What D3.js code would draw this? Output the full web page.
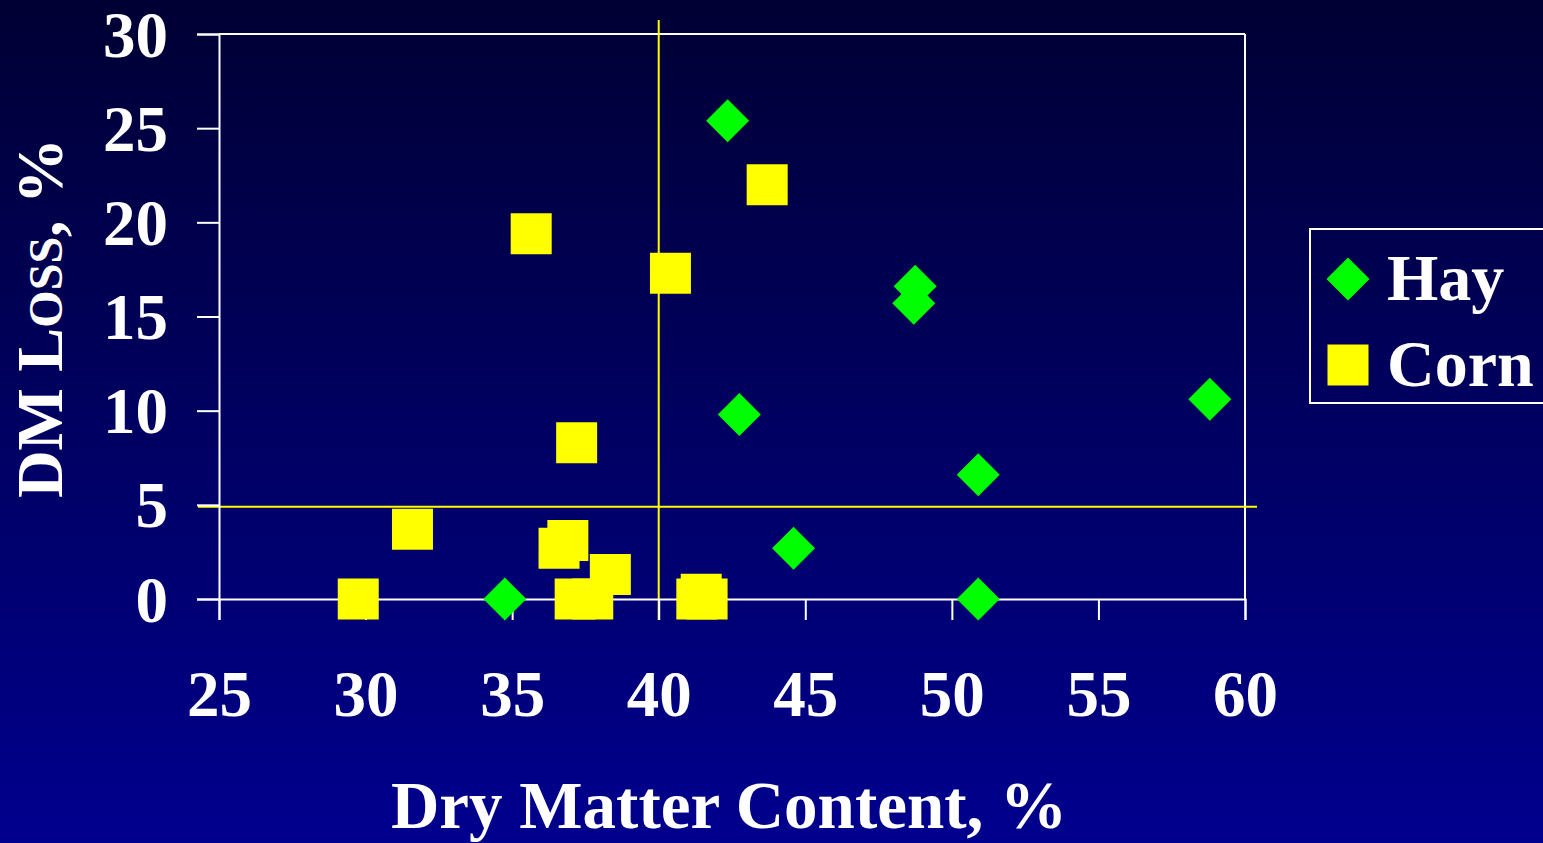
<!DOCTYPE html>
<html>
<head>
<meta charset="utf-8">
<script src="https://cdn.jsdelivr.net/npm/d3@7/dist/d3.min.js"></script>
<style>
  html, body { margin: 0; padding: 0; background: #000050; overflow: hidden; }
  svg { display: block; }
  text { font-family: "Liberation Serif", "Times New Roman", serif; font-weight: bold; fill: #ffffff; }
</style>
</head>
<body>
<svg id="chart" width="1543" height="843"></svg>
<script>
// Dry matter content (%) vs. DM loss (%) for hay and corn samples
const hayDM   = [34.75, 42.35, 42.75, 44.6, 48.75, 48.7, 50.9, 50.9, 58.8];
const hayLoss = [0,     25.4,  9.8,   2.7,  16.6,  15.7, 6.6,  0,    10.6];

const cornDM   = [29.75, 31.6, 35.65, 36.6, 36.9, 37.2, 38.35, 37.15, 37.75, 40.4, 41.3, 41.45, 41.65, 43.7];
const cornLoss = [0,     3.7,  19.4,  2.7,  3.1,  8.3,  1.3,   0,     0,     17.3, 0,    0.25,  0,     22.0];

const xTicks = [25, 30, 35, 40, 45, 50, 55, 60];
const yTicks = [0, 5, 10, 15, 20, 25, 30];

// Reference lines splitting the plot into quadrants
const dmThreshold = 40;
const lossThreshold = 4.9;

const seriesNames = ["Hay", "Corn"];

const W = 1543, H = 843;
const svg = d3.select("#chart");

// Background: dark navy fading to blue
const defs = svg.append("defs");
const grad = defs.append("linearGradient")
  .attr("id", "bg").attr("x1", 0).attr("y1", 0).attr("x2", 0).attr("y2", 1);
grad.append("stop").attr("offset", "0%").attr("stop-color", "#000034");
grad.append("stop").attr("offset", "100%").attr("stop-color", "#00008e");
svg.append("rect").attr("width", W).attr("height", H).attr("fill", "url(#bg)");

const x = d3.scaleLinear().domain([25, 60]).range([219, 1245]);
const y = d3.scaleLinear().domain([0, 30]).range([599, 34]);

const axisColor = "#ffffff";

// Top and right frame lines
svg.append("line")
  .attr("x1", x(25)).attr("x2", x(60)).attr("y1", y(30)).attr("y2", y(30))
  .attr("stroke", axisColor).attr("stroke-width", 2);
svg.append("line")
  .attr("x1", x(60)).attr("x2", x(60)).attr("y1", y(30)).attr("y2", y(0))
  .attr("stroke", axisColor).attr("stroke-width", 2);

// Quadrant reference lines
svg.append("line")
  .attr("x1", x(dmThreshold)).attr("x2", x(dmThreshold))
  .attr("y1", y(30) - 14).attr("y2", y(0) + 21)
  .attr("stroke", "#ffff00").attr("stroke-width", 2);
svg.append("line")
  .attr("x1", x(25) - 21).attr("x2", x(60) + 12)
  .attr("y1", y(lossThreshold)).attr("y2", y(lossThreshold))
  .attr("stroke", "#ffff00").attr("stroke-width", 2);

// X axis sits on the zero line
const xAxis = svg.append("g")
  .attr("transform", `translate(0,${y(0)})`)
  .call(d3.axisBottom(x).tickValues(xTicks).tickSize(21).tickSizeOuter(21).tickPadding(50));
xAxis.selectAll("path, line").attr("stroke", axisColor).attr("stroke-width", 2);
xAxis.selectAll("text")
  .style("font-size", "65px").attr("fill", "#ffffff")
  .attr("font-family", null).attr("font-size", null);

// Y axis
const yAxis = svg.append("g")
  .attr("transform", `translate(${x(25)},0)`)
  .call(d3.axisLeft(y).tickValues(yTicks).tickSize(22).tickSizeOuter(22).tickPadding(29));
yAxis.selectAll("path, line").attr("stroke", axisColor).attr("stroke-width", 2);
yAxis.selectAll("text")
  .style("font-size", "65px").attr("fill", "#ffffff")
  .attr("font-family", null).attr("font-size", null)
  .attr("dy", "0.34em");

// Axis titles
svg.append("text")
  .attr("x", 729).attr("y", 828)
  .attr("text-anchor", "middle")
  .style("font-size", "67px")
  .text("Dry Matter Content, %");

const yTitle = svg.append("text")
  .attr("transform", `translate(62,318) rotate(-90)`)
  .attr("text-anchor", "middle")
  .style("font-size", "66px");
yTitle.append("tspan").text("DM L");
yTitle.append("tspan").style("font-size", "48px").text("OSS");
yTitle.append("tspan").text(", %");

// Marker shapes
const diamond = r => `M0,${-r}L${r},0L0,${r}L${-r},0Z`;
const square = s => `M${-s},${-s}H${s}V${s}H${-s}Z`;

const hay = hayDM.map((d, i) => ({ x: d, y: hayLoss[i] }));
const corn = cornDM.map((d, i) => ({ x: d, y: cornLoss[i] }));

svg.append("g").selectAll("path").data(hay).join("path")
  .attr("d", diamond(21.5))
  .attr("transform", d => `translate(${x(d.x)},${y(d.y)})`)
  .attr("fill", "#00ff00");

svg.append("g").selectAll("path").data(corn).join("path")
  .attr("d", square(20.5))
  .attr("transform", d => `translate(${x(d.x)},${y(d.y)})`)
  .attr("fill", "#ffff00");

// Legend
const legend = svg.append("g");
legend.append("rect")
  .attr("x", 1310).attr("y", 229).attr("width", 260).attr("height", 174)
  .attr("fill", "none").attr("stroke", "#ffffff").attr("stroke-width", 2);
const legendItems = [
  { name: seriesNames[0], shape: diamond(21.5), fill: "#00ff00", cy: 279 },
  { name: seriesNames[1], shape: square(20.5), fill: "#ffff00", cy: 365 }
];
const li = legend.selectAll("g.item").data(legendItems).join("g").attr("class", "item");
li.append("path")
  .attr("d", d => d.shape)
  .attr("transform", d => `translate(1348,${d.cy})`)
  .attr("fill", d => d.fill);
li.append("text")
  .attr("x", 1387).attr("y", d => d.cy + 21)
  .style("font-size", "66px")
  .text(d => d.name);
</script>
</body>
</html>
